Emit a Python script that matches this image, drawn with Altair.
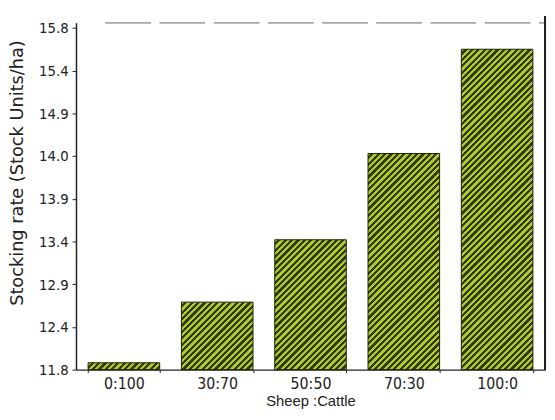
import math
import json
import altair as alt
import pandas as pd

# ---- data ----
categories = ["0:100", "30:70", "50:50", "70:30", "100:0"]
values = [11.88, 12.59, 13.32, 14.33, 15.55]
tick_values = [11.8, 12.3, 12.8, 13.3, 13.8, 14.3, 14.8, 15.3, 15.8]
tick_labels = ["11.8", "12.4", "12.9", "13.4", "13.9", "14.0", "14.9", "15.4", "15.8"]

df = pd.DataFrame({"ratio": categories, "rate": values})

# ---- layout / style ----
W_PLOT, H_PLOT = 476, 352
Y_MIN, Y_MAX = 11.8, 15.86
P_IN, P_OUT = 0.233, 0.13
BRIGHT, DARK = "#aacb28", "#353a10"
NARROW = "Liberation Sans Narrow, DejaVu Sans Condensed, Liberation Sans, sans-serif"

step = W_PLOT / (len(categories) - P_IN + 2 * P_OUT)
bar_w = step * (1 - P_IN)
px_per_unit = H_PLOT / (Y_MAX - Y_MIN)


def hatch(v, period=6.5):
    h = max((v - Y_MIN) * px_per_unit, 1.0)
    r = h / bar_w
    k = (1 + r) / (1 + r * r)
    n = (bar_w + h) / period
    stops = []
    i = 0
    while i / n < 1:
        a = i / n
        b = min((i + 0.5) / n, 1.0)
        c = min((i + 1) / n, 1.0)
        stops += [
            {"offset": a, "color": BRIGHT},
            {"offset": b, "color": BRIGHT},
            {"offset": b, "color": DARK},
            {"offset": c, "color": DARK},
        ]
        i += 1
    return {"gradient": "linear", "x1": 0, "y1": 0, "x2": k, "y2": k * r, "stops": stops}


label_expr = f"{json.dumps(tick_labels)}[round((datum.value - {Y_MIN}) / 0.5)]"

x_enc = alt.X(
    "ratio:N",
    sort=categories,
    scale=alt.Scale(domain=categories, paddingInner=P_IN, paddingOuter=P_OUT),
    axis=alt.Axis(
        title="Sheep :Cattle",
        labelAngle=0,
        labelFont=NARROW,
        labelFontSize=16,
        labelColor="#222",
        labelPadding=3,
        tickBand="extent",
        tickSize=3,
        tickColor="#222",
        domainColor="#222",
        domainWidth=1.5,
        titleFont="Liberation Sans",
        titleFontSize=15,
        titleFontWeight="normal",
        titleColor="#222",
        titlePadding=2,
    ),
)
y_enc = alt.Y(
    "rate:Q",
    scale=alt.Scale(domain=[Y_MIN, Y_MAX], nice=False, zero=False),
    axis=alt.Axis(
        title="Stocking rate (Stock Units/ha)",
        values=tick_values,
        labelExpr=label_expr,
        labelFont=NARROW,
        labelFontSize=15,
        labelColor="#222",
        labelPadding=4,
        tickSize=4,
        tickColor="#222",
        domainColor="#222",
        domainWidth=1.5,
        grid=False,
        titleFont="DejaVu Sans",
        titleFontSize=18,
        titleFontWeight="normal",
        titleColor="#222",
        titleX=-59,
        titleY=152,
        titleAlign="center",
        titleBaseline="middle",
        titleAngle=270,
    ),
)

layers = []
for cat, val in zip(categories, values):
    layers.append(
        alt.Chart(df)
        .transform_filter(alt.datum.ratio == cat)
        .mark_bar(fill=hatch(val), stroke="#1c1f08", strokeWidth=1)
        .encode(x=x_enc, y=y_enc, y2=alt.Y2(datum=Y_MIN))
    )

top_line = alt.Chart(df).mark_rule(
    color="#a8a8a8", strokeWidth=1.2, strokeDash=[46, 9]
).encode(x=alt.value(30), x2=alt.value(W_PLOT), y=alt.value(0))

right_line = alt.Chart(df).mark_rule(color="#222", strokeWidth=2).encode(
    x=alt.value(W_PLOT), y=alt.value(-7), y2=alt.value(H_PLOT)
)

chart = (
    alt.layer(*layers, top_line, right_line)
    .properties(
        width=W_PLOT,
        height=H_PLOT,
        autosize=alt.AutoSizeParams(type="none"),
        padding={"left": 69, "top": 12, "right": 2, "bottom": 40},
        background="white",
    )
    .configure_view(stroke=None)
)

chart.save("out.html", embed_options={"renderer": "svg", "actions": False})
